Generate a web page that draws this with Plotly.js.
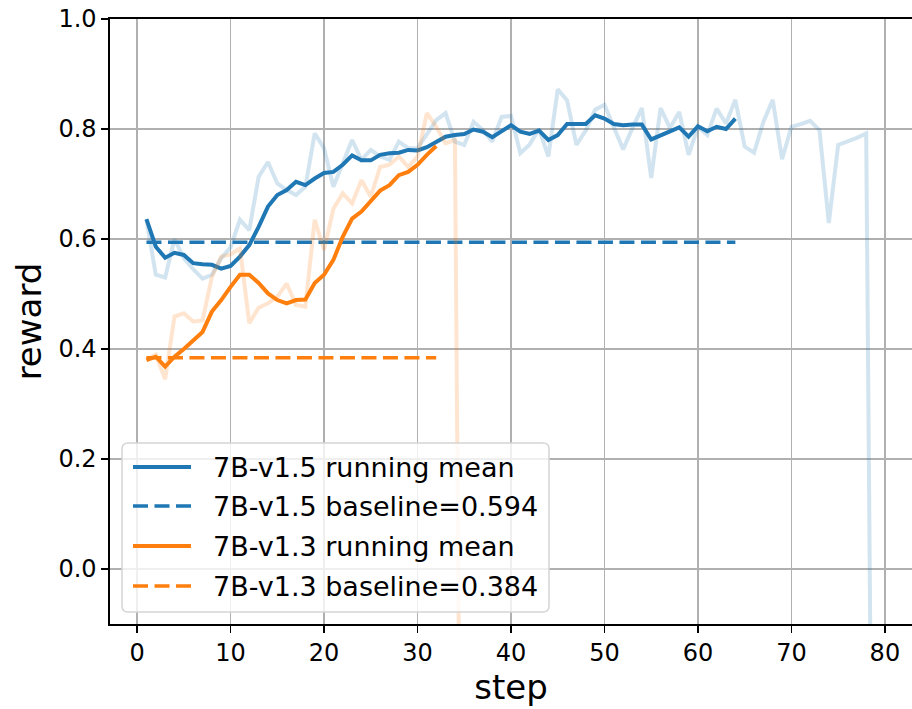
<!DOCTYPE html>
<html>
<head>
<meta charset="utf-8">
<script src="https://cdn.plot.ly/plotly-3.0.1.min.js"></script>
<style>
  html, body { margin: 0; padding: 0; background: #ffffff; }
  #chart { width: 912px; height: 709px; }
</style>
</head>
<body>
<div id="chart"></div>
<script>
// ---------- data ----------
const blueRawSteps = [1,2,3,4,5,6,7,8,9,10,11,12,13,14,15,16,17,18,19,20,
  21,22,23,24,25,26,27,28,29,30,31,32,33,34,35,36,37,38,39,40,
  41,42,43,44,45,46,47,48,49,50,51,52,53,54,55,56,57,58,59,60,
  61,62,63,64,65,66,67,68,69,70,71,72,73,74,75,76,77,78,79];
const blueRaw = [0.635,0.535,0.530,0.600,0.565,0.545,0.528,0.535,0.565,0.585,
  0.635,0.616,0.713,0.740,0.701,0.689,0.680,0.695,0.792,0.765,
  0.695,0.740,0.780,0.744,0.762,0.750,0.744,0.777,0.765,0.765,
  0.789,0.816,0.829,0.777,0.771,0.813,0.798,0.777,0.822,0.824,
  0.756,0.772,0.800,0.750,0.872,0.852,0.771,0.797,0.835,0.844,
  0.803,0.763,0.802,0.838,0.711,0.838,0.802,0.831,0.753,0.804,
  0.789,0.837,0.810,0.853,0.768,0.757,0.813,0.853,0.745,0.804,
  0.809,0.815,0.798,0.629,0.771,0.777,0.784,0.792,-1.30];

const blueMeanSteps = [1,2,3,4,5,6,7,8,9,10,11,12,13,14,15,16,17,18,19,20,
  21,22,23,24,25,26,27,28,29,30,31,32,33,34,35,36,37,38,39,40,
  41,42,43,44,45,46,47,48,49,50,51,52,53,54,55,56,57,58,59,60,
  61,62,63,64];
const blueMean = [0.636,0.586,0.566,0.575,0.571,0.556,0.554,0.553,0.546,0.551,
  0.568,0.589,0.622,0.659,0.680,0.689,0.704,0.698,0.710,0.720,
  0.722,0.735,0.752,0.743,0.743,0.753,0.756,0.757,0.762,0.761,
  0.767,0.777,0.786,0.789,0.791,0.799,0.795,0.785,0.795,0.807,
  0.795,0.791,0.797,0.780,0.789,0.809,0.809,0.809,0.825,0.819,
  0.809,0.807,0.808,0.808,0.781,0.789,0.797,0.803,0.786,0.805,
  0.796,0.804,0.800,0.819];

const orangeRawSteps = [1,2,3,4,5,6,7,8,9,10,11,12,13,14,15,16,17,18,19,20,
  21,22,23,24,25,26,27,28,29,30,31,32,33,34,35];
const orangeRaw = [0.380,0.390,0.345,0.459,0.465,0.450,0.452,0.531,0.568,0.572,
  0.583,0.447,0.475,0.483,0.495,0.519,0.480,0.477,0.635,0.580,
  0.655,0.683,0.665,0.707,0.677,0.731,0.735,0.750,0.731,0.750,
  0.829,0.804,0.774,0.780,-1.40];

const orangeMeanSteps = [1,2,3,4,5,6,7,8,9,10,11,12,13,14,15,16,17,18,19,20,
  21,22,23,24,25,26,27,28,29,30,31,32];
const orangeMean = [0.380,0.386,0.368,0.386,0.400,0.416,0.431,0.468,0.489,0.513,
  0.535,0.535,0.520,0.501,0.489,0.483,0.489,0.490,0.520,0.535,
  0.562,0.604,0.637,0.650,0.668,0.688,0.698,0.716,0.722,0.735,
  0.753,0.769];

const blueBaseline = 0.594;
const orangeBaseline = 0.384;

const legendLabels = ['7B-v1.5 running mean', '7B-v1.5 baseline=0.594',
                      '7B-v1.3 running mean', '7B-v1.3 baseline=0.384'];

const xTicks = [0,10,20,30,40,50,60,70,80];
const yTicks = [0.0,0.2,0.4,0.6,0.8,1.0];

// ---------- styles ----------
const BLUE = '#1f77b4', ORANGE = '#ff7f0e';
const BLUE_LIGHT = 'rgba(31,119,180,0.2)', ORANGE_LIGHT = 'rgba(255,127,14,0.2)';
const DASH = '15px,6.5px';
const FONT = 'DejaVu Sans, Liberation Sans, sans-serif';

const first = a => a[0], last = a => a[a.length - 1];

const traces = [
  {x: blueRawSteps, y: blueRaw, mode: 'lines', line: {color: BLUE_LIGHT, width: 4}, hoverinfo: 'skip', showlegend: false},
  {x: blueMeanSteps, y: blueMean, mode: 'lines', line: {color: BLUE, width: 4}, name: legendLabels[0], showlegend: false},
  {x: [first(blueMeanSteps), last(blueMeanSteps)], y: [blueBaseline, blueBaseline], mode: 'lines',
   line: {color: BLUE, width: 3.5, dash: DASH}, name: legendLabels[1], showlegend: false},
  {x: orangeRawSteps, y: orangeRaw, mode: 'lines', line: {color: ORANGE_LIGHT, width: 4}, hoverinfo: 'skip', showlegend: false},
  {x: orangeMeanSteps, y: orangeMean, mode: 'lines', line: {color: ORANGE, width: 4}, name: legendLabels[2], showlegend: false},
  {x: [first(orangeMeanSteps), last(orangeMeanSteps)], y: [orangeBaseline, orangeBaseline], mode: 'lines',
   line: {color: ORANGE, width: 3.5, dash: DASH}, name: legendLabels[3], showlegend: false}
];

// ---------- custom legend (matplotlib-like) ----------
const L = 110, T = 19, W = 802, H = 605;
const px2x = p => (p - L) / W;
const py2y = p => (T + H - p) / H;
function roundRect(x0p, y0p, x1p, y1p, r) {
  const x0 = px2x(x0p), x1 = px2x(x1p), y0 = py2y(y0p), y1 = py2y(y1p);
  const rx = r / W, ry = r / H;
  return `M${x0 + rx},${y0} L${x1 - rx},${y0} Q${x1},${y0} ${x1},${y0 - ry} ` +
         `L${x1},${y1 + ry} Q${x1},${y1} ${x1 - rx},${y1} L${x0 + rx},${y1} ` +
         `Q${x0},${y1} ${x0},${y1 + ry} L${x0},${y0 - ry} Q${x0},${y0} ${x0 + rx},${y0} Z`;
}
const legendRows = [467, 506, 546, 586];
const legendStyles = [
  {color: BLUE, dash: 'solid', width: 4},
  {color: BLUE, dash: DASH, width: 3.5},
  {color: ORANGE, dash: 'solid', width: 4},
  {color: ORANGE, dash: DASH, width: 3.5}
];
const shapes = [{
  type: 'path', xref: 'paper', yref: 'paper', layer: 'above',
  path: roundRect(122, 443, 549, 612, 6),
  fillcolor: 'rgba(255,255,255,0.8)', line: {color: '#d5d5d5', width: 1.5}
}];
const annotations = [];
legendRows.forEach((py, i) => {
  shapes.push({type: 'line', xref: 'paper', yref: 'paper', layer: 'above',
    x0: px2x(133), x1: px2x(191), y0: py2y(py), y1: py2y(py),
    line: legendStyles[i]});
  annotations.push({xref: 'paper', yref: 'paper', x: px2x(211), y: py2y(py),
    xanchor: 'left', yanchor: 'middle', showarrow: false, text: legendLabels[i],
    font: {family: FONT, size: 27, color: '#000'}});
});

const layout = {
  width: 912, height: 709,
  margin: {l: L, r: 0, t: T, b: 709 - T - H, pad: 0},
  paper_bgcolor: '#ffffff', plot_bgcolor: '#ffffff',
  showlegend: false,
  font: {family: FONT, size: 26, color: '#000'},
  xaxis: {
    range: [-2.9, 82.9], tickvals: xTicks, ticktext: xTicks.map(String),
    showgrid: true, gridcolor: '#b0b0b0', gridwidth: 1.6,
    showline: true, linecolor: '#000', linewidth: 1.6, mirror: true,
    ticks: 'outside', ticklen: 7, tickwidth: 1.6, tickcolor: '#000',
    zeroline: false, tickfont: {family: FONT, size: 24},
    title: {text: 'step', font: {family: FONT, size: 34}, standoff: 8},
    automargin: false
  },
  yaxis: {
    range: [-0.1, 1.0], tickvals: yTicks, ticktext: yTicks.map(v => v.toFixed(1)),
    showgrid: true, gridcolor: '#b0b0b0', gridwidth: 1.6,
    showline: true, linecolor: '#000', linewidth: 1.6, mirror: false,
    ticks: 'outside', ticklen: 7, tickwidth: 1.6, tickcolor: '#000',
    zeroline: false, tickfont: {family: FONT, size: 24},
    title: {text: 'reward', font: {family: FONT, size: 34}, standoff: 6},
    automargin: false
  },
  shapes: shapes,
  annotations: annotations
};

Plotly.newPlot('chart', traces, layout, {displayModeBar: false, staticPlot: true});
</script>
</body>
</html>
